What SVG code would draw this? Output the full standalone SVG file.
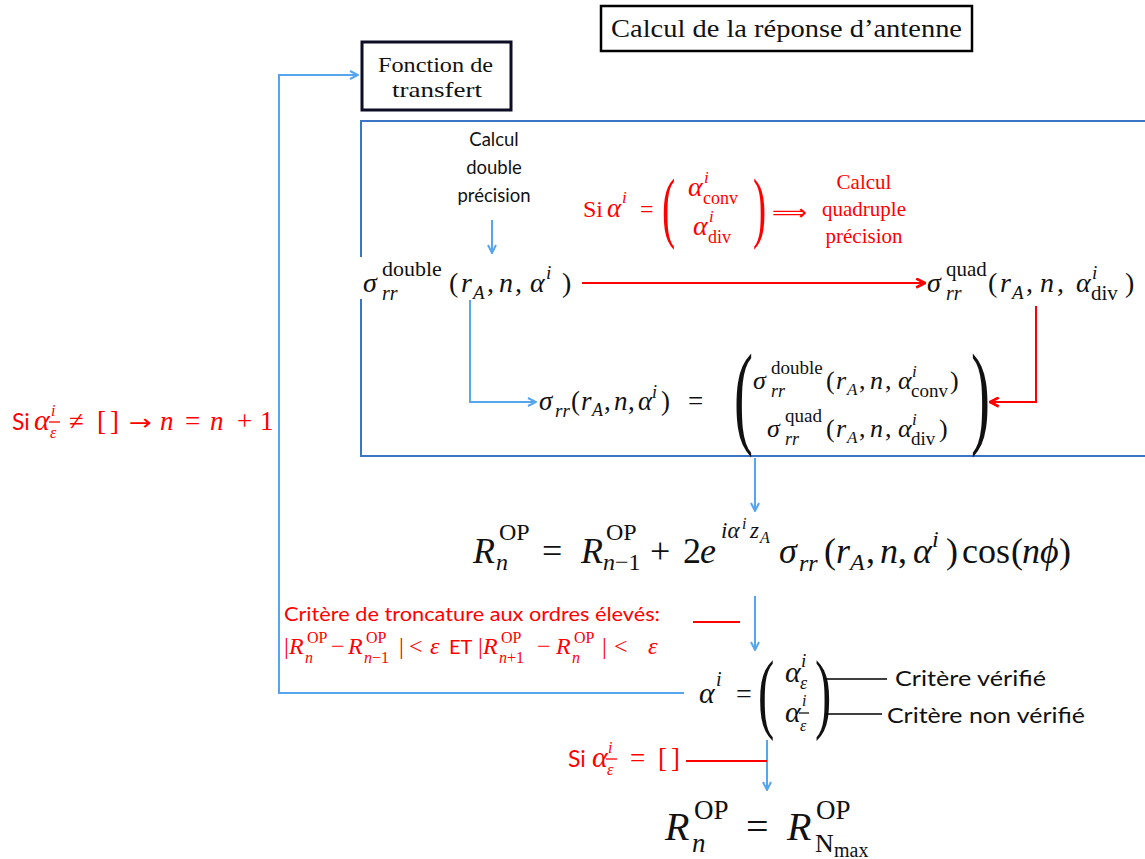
<svg xmlns="http://www.w3.org/2000/svg" width="1145" height="859" viewBox="0 0 1145 859">
<defs>
<style>
.cal{font-family:Lato,"Open Sans",sans-serif}
.ser{font-family:"Liberation Serif","DejaVu Serif",serif}
.i{font-style:italic}
.red{fill:#FF0000}
.blk{fill:#111}
.bl{stroke:#55A6EE;stroke-width:2;fill:none}
.rd{stroke:#FF0000;stroke-width:2;fill:none}
.bk{stroke:#000;stroke-width:1.5;fill:none}
.bar{stroke-width:1.3}
</style>
<marker id="ab" viewBox="0 0 10 10" refX="9" refY="5" markerWidth="10" markerHeight="10" markerUnits="userSpaceOnUse" orient="auto">
<path d="M1,1 L9,5 L1,9" fill="none" stroke="#55A6EE" stroke-width="2"/>
</marker>
<marker id="ar" viewBox="0 0 10 10" refX="9" refY="5" markerWidth="11" markerHeight="11" markerUnits="userSpaceOnUse" orient="auto">
<path d="M1,1 L9,5 L1,9" fill="none" stroke="#FF0000" stroke-width="2.5"/>
</marker>
</defs>
<rect width="1145" height="859" fill="#fff"/>

<g id="title">
<rect x="601" y="6" width="371" height="45" fill="#fff" stroke="#000" stroke-width="2.5"/>
<text x="611" y="37" class="ser blk" font-size="26" textLength="351" lengthAdjust="spacingAndGlyphs">Calcul de la réponse d’antenne</text>
</g>

<g id="fonction-transfert">
<rect x="362" y="42" width="149" height="68" fill="#fff" stroke="#0D0D26" stroke-width="3"/>
<text x="378" y="72" class="ser blk" font-size="21" textLength="115" lengthAdjust="spacingAndGlyphs">Fonction de</text>
<text x="392" y="97" class="ser blk" font-size="21" textLength="90" lengthAdjust="spacingAndGlyphs">transfert</text>
</g>

<g id="calc-box">
<path d="M1160,121 L361,121 L361,456 L1160,456" fill="none" stroke="#3C74C6" stroke-width="2"/>
</g>

<g id="calcul-double">
<text class="cal blk" font-size="18.5" text-anchor="middle"><tspan x="494" y="146">Calcul</tspan><tspan x="494" y="174">double</tspan><tspan x="494" y="202">précision</tspan></text>
</g>

<g id="condition-quad">
<text class="ser red" font-size="24">
<tspan x="583" y="217">Si</tspan><tspan x="607" font-size="27" class="i">α</tspan><tspan x="622" y="203" class="i" font-size="17">i</tspan><tspan x="640" y="217">=</tspan>
<tspan x="688" y="196" font-size="28" class="i">α</tspan><tspan x="704" y="183" class="i" font-size="17">i</tspan><tspan x="703" y="204" font-size="18">conv</tspan>
<tspan x="693" y="235" font-size="28" class="i">α</tspan><tspan x="709" y="222" class="i" font-size="17">i</tspan><tspan x="708" y="243" font-size="18">div</tspan>
</text>
<text class="ser red" font-size="79" transform="translate(662,233) scale(0.5,1)">(</text>
<text class="ser red" font-size="79" transform="translate(753,233) scale(0.5,1)">)</text>
<text x="772" y="220" class="red" font-family="DejaVu Sans,sans-serif" font-size="22" textLength="35" lengthAdjust="spacingAndGlyphs">⟹</text>
<text class="ser red" font-size="21" text-anchor="middle"><tspan x="864" y="189">Calcul</tspan><tspan x="864" y="216">quadruple</tspan><tspan x="864" y="243">précision</tspan></text>
</g>

<g id="sigma-double">
<rect x="355" y="257" width="226" height="42" fill="#fff"/>
<text class="ser blk" font-size="28">
<tspan x="363" y="292" class="i">σ</tspan>
<tspan x="382" y="276" font-size="22">double</tspan>
<tspan x="382" y="300" font-size="20" class="i">rr</tspan>
<tspan x="449" y="292">(</tspan><tspan x="461" class="i">r</tspan><tspan x="473" y="299" font-size="19" class="i">A</tspan><tspan x="487" y="292">,</tspan><tspan x="499" class="i">n</tspan><tspan x="515">,</tspan><tspan x="530" class="i">α</tspan><tspan x="546" y="279" font-size="19" class="i">i</tspan><tspan x="562" y="292">)</tspan>
</text>
</g>

<g id="sigma-quad">
<text class="ser blk" font-size="28">
<tspan x="927" y="292" class="i">σ</tspan>
<tspan x="946" y="276" font-size="21">quad</tspan>
<tspan x="946" y="300" font-size="20" class="i">rr</tspan>
<tspan x="988" y="292">(</tspan><tspan x="1000" class="i">r</tspan><tspan x="1012" y="299" font-size="19" class="i">A</tspan><tspan x="1026" y="292">,</tspan><tspan x="1040" class="i">n</tspan><tspan x="1057">,</tspan><tspan x="1076" class="i">α</tspan><tspan x="1092" y="279" font-size="19" class="i">i</tspan><tspan x="1091" y="300" font-size="21">div</tspan><tspan x="1125" y="292">)</tspan>
</text>
</g>

<g id="sigma-rr">
<text class="ser blk" font-size="27">
<tspan x="539" y="410" class="i">σ</tspan><tspan x="555" y="417" font-size="19" class="i">rr</tspan><tspan x="571" y="410">(</tspan><tspan x="581" class="i">r</tspan><tspan x="592" y="416" font-size="18" class="i">A</tspan><tspan x="604" y="410">,</tspan><tspan x="614" class="i">n</tspan><tspan x="628">,</tspan><tspan x="638" class="i">α</tspan><tspan x="652" y="398" font-size="18" class="i">i</tspan><tspan x="661" y="410">)</tspan><tspan x="688">=</tspan>
</text>
<text class="ser blk" font-size="114" transform="translate(734,433) scale(0.5,1)">(</text>
<text class="ser blk" font-size="114" transform="translate(971,433) scale(0.5,1)">)</text>
<text class="ser blk" font-size="26">
<tspan x="753" y="389" class="i">σ</tspan>
<tspan x="771" y="374" font-size="19">double</tspan>
<tspan x="771" y="397" font-size="18" class="i">rr</tspan>
<tspan x="826" y="389">(</tspan><tspan x="836" class="i">r</tspan><tspan x="847" y="395" font-size="17" class="i">A</tspan><tspan x="859" y="389">,</tspan><tspan x="870" class="i">n</tspan><tspan x="885">,</tspan><tspan x="898" class="i">α</tspan><tspan x="912" y="377" font-size="17" class="i">i</tspan><tspan x="911" y="397" font-size="19">conv</tspan><tspan x="950" y="389">)</tspan>
<tspan x="767" y="437" class="i">σ</tspan>
<tspan x="785" y="422" font-size="19">quad</tspan>
<tspan x="785" y="445" font-size="18" class="i">rr</tspan>
<tspan x="826" y="437">(</tspan><tspan x="836" class="i">r</tspan><tspan x="847" y="443" font-size="17" class="i">A</tspan><tspan x="859" y="437">,</tspan><tspan x="870" class="i">n</tspan><tspan x="885">,</tspan><tspan x="898" class="i">α</tspan><tspan x="912" y="425" font-size="17" class="i">i</tspan><tspan x="911" y="445" font-size="19">div</tspan><tspan x="939" y="437">)</tspan>
</text>
</g>

<g id="r-op-recurrence">
<text class="ser blk" font-size="36">
<tspan x="473" y="563" class="i">R</tspan>
<tspan x="499" y="540" font-size="24">OP</tspan>
<tspan x="496" y="570" font-size="24" class="i">n</tspan>
<tspan x="542" y="563">=</tspan>
<tspan x="581" y="563" class="i">R</tspan>
<tspan x="606" y="540" font-size="24">OP</tspan>
<tspan x="603" y="570" font-size="24"><tspan class="i">n</tspan>−1</tspan>
<tspan x="650" y="563">+</tspan>
<tspan x="683" y="563">2</tspan><tspan x="700" class="i">e</tspan>
<tspan x="721" y="538" font-size="23" class="i">iα</tspan><tspan x="742" y="529" font-size="16" class="i">i</tspan><tspan x="750" y="538" font-size="23" class="i">z</tspan><tspan x="760" y="543" font-size="16" class="i">A</tspan>
<tspan x="779" y="563" class="i">σ</tspan><tspan x="799" y="571" font-size="24" class="i">rr</tspan><tspan x="824" y="563">(</tspan><tspan x="836" class="i">r</tspan><tspan x="850" y="570" font-size="24" class="i">A</tspan><tspan x="866" y="563">,</tspan><tspan x="880" class="i">n</tspan><tspan x="898">,</tspan><tspan x="913" class="i">α</tspan><tspan x="932" y="547" font-size="24" class="i">i</tspan><tspan x="946" y="563">)</tspan>
<tspan x="962" y="563">cos</tspan><tspan x="1011">(</tspan><tspan x="1022" class="i">n</tspan><tspan x="1040" class="i">ϕ</tspan><tspan x="1059">)</tspan>
</text>
</g>

<g id="critere-troncature">
<text x="284" y="621" class="cal red" font-size="19.5" textLength="376" lengthAdjust="spacingAndGlyphs">Critère de troncature aux ordres élevés:</text>
<text class="ser red" font-size="24" y="654">
<tspan x="284">|</tspan><tspan x="289" class="i">R</tspan><tspan x="307" y="643" font-size="16">OP</tspan><tspan x="305" y="663" font-size="16" class="i">n</tspan><tspan x="331" y="654">−</tspan><tspan x="348" class="i">R</tspan><tspan x="366" y="643" font-size="16">OP</tspan><tspan x="364" y="663" font-size="16"><tspan class="i">n</tspan>−1</tspan><tspan x="399" y="654">|</tspan><tspan x="409">&lt;</tspan><tspan x="430" class="i">ε</tspan>
<tspan x="449" class="cal" font-size="20">ET</tspan>
<tspan x="478">|</tspan><tspan x="483" class="i">R</tspan><tspan x="501" y="643" font-size="16">OP</tspan><tspan x="499" y="663" font-size="16"><tspan class="i">n</tspan>+1</tspan><tspan x="537" y="654">−</tspan><tspan x="556" class="i">R</tspan><tspan x="574" y="643" font-size="16">OP</tspan><tspan x="572" y="663" font-size="16" class="i">n</tspan><tspan x="602" y="654">|</tspan><tspan x="614">&lt;</tspan><tspan x="648" class="i">ε</tspan>
</text>
</g>

<g id="alpha-split">
<text class="ser blk" font-size="30">
<tspan x="699" y="703" class="i">α</tspan><tspan x="716" y="686" font-size="20" class="i">i</tspan><tspan x="736" y="703" font-size="28">=</tspan>
<tspan x="785" y="682" class="i">α</tspan><tspan x="801" y="667" font-size="19" class="i">i</tspan><tspan x="800" y="689" font-size="18" class="i">ε</tspan>
<tspan x="785" y="722" class="i">α</tspan><tspan x="802" y="706" font-size="16" class="i">i</tspan><tspan x="800" y="731" font-size="16" class="i">ε</tspan>
</text>
<line x1="799" y1="713" x2="809" y2="713" stroke="#111" class="bar"/>
<text class="ser blk" font-size="89" transform="translate(758,722) scale(0.55,1)">(</text>
<text class="ser blk" font-size="89" transform="translate(815,722) scale(0.55,1)">)</text>
</g>

<g id="critere-verifie">
<text x="895" y="686" class="cal blk" font-size="20.5" textLength="151" lengthAdjust="spacingAndGlyphs">Critère vérifié</text>
</g>
<g id="critere-non-verifie">
<text x="887" y="723" class="cal blk" font-size="20.5" textLength="198" lengthAdjust="spacingAndGlyphs">Critère non vérifié</text>
</g>

<g id="si-vide">
<text class="red" font-size="27" y="767"><tspan x="568" class="cal" font-size="23">Si</tspan><tspan x="592" class="ser i" font-size="30">α</tspan><tspan x="608" y="753" class="ser i" font-size="16">i</tspan><tspan x="607" y="775" class="ser i" font-size="16">ε</tspan><tspan x="630" y="767" class="ser">=</tspan><tspan x="658" class="ser">[</tspan><tspan x="671" class="ser">]</tspan></text>
<line x1="606" y1="759" x2="617" y2="759" stroke="#FF0000" class="bar"/>
</g>

<g id="si-non-vide">
<text class="red" font-size="27" y="430"><tspan x="12" class="cal" font-size="23">Si</tspan><tspan x="34" class="ser i" font-size="30">α</tspan><tspan x="51" y="416" class="ser i" font-size="16">i</tspan><tspan x="50" y="438" class="ser i" font-size="16">ε</tspan><tspan x="69" y="430" class="ser">≠</tspan><tspan x="97" class="ser">[</tspan><tspan x="110" class="ser">]</tspan><tspan x="160" class="ser i">n</tspan><tspan x="185" class="ser">=</tspan><tspan x="210" class="ser i">n</tspan><tspan x="237" class="ser">+</tspan><tspan x="260" class="ser">1</tspan></text>
<text x="129" y="430" class="red" font-family="DejaVu Sans,sans-serif" font-size="22" textLength="23" lengthAdjust="spacingAndGlyphs">→</text>
<line x1="49" y1="422" x2="60" y2="422" stroke="#FF0000" class="bar"/>
</g>

<g id="r-op-final">
<text class="ser blk" font-size="40">
<tspan x="665" y="840" class="i">R</tspan>
<tspan x="694" y="819" font-size="27">OP</tspan>
<tspan x="692" y="852" font-size="27" class="i">n</tspan>
<tspan x="746" y="840">=</tspan>
<tspan x="787" y="840" class="i">R</tspan>
<tspan x="816" y="819" font-size="27">OP</tspan>
<tspan x="815" y="852" font-size="26">N</tspan><tspan x="834" y="857" font-size="20">max</tspan>
</text>
</g>

<g id="connectors">
<polyline class="bl" points="684,693 279,693 279,75 358,75" marker-end="url(#ab)"/>
<line class="bl" x1="492" y1="220" x2="492" y2="253" marker-end="url(#ab)"/>
<polyline class="bl" points="470,300 470,402 536,402" marker-end="url(#ab)"/>
<line class="bl" x1="755" y1="458" x2="755" y2="511" marker-end="url(#ab)"/>
<line class="bl" x1="755" y1="596" x2="755" y2="650" marker-end="url(#ab)"/>
<line class="bl" x1="767" y1="740" x2="767" y2="790" marker-end="url(#ab)"/>
<line class="rd" x1="582" y1="283" x2="925" y2="283" marker-end="url(#ar)"/>
<polyline class="rd" points="1036,306 1036,402 990,402" marker-end="url(#ar)"/>
<line class="rd" x1="693" y1="622" x2="740" y2="622"/>
<line class="rd" x1="686" y1="761" x2="767" y2="761"/>
<line class="bk" x1="826" y1="679" x2="887" y2="679"/>
<line class="bk" x1="826" y1="714" x2="882" y2="714"/>
</g>
</svg>
